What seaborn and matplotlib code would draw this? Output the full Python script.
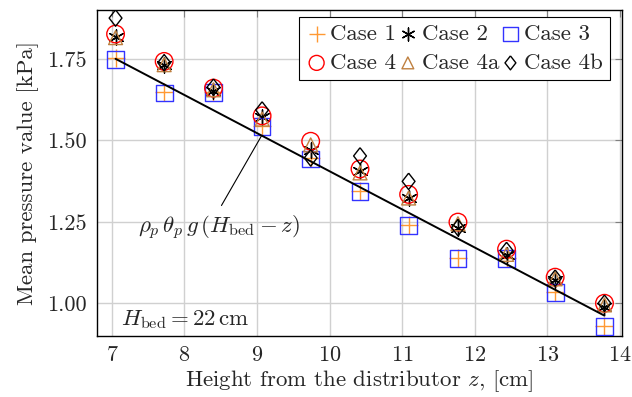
import matplotlib
matplotlib.use("Agg")
import matplotlib.pyplot as plt
import seaborn as sns
import pandas as pd

# Measurement heights above the distributor [cm]
z = [7.05, 7.72, 8.40, 9.07, 9.74, 10.42, 11.09, 11.77, 12.44, 13.11, 13.79]

# Mean pressure per case [kPa]
case1 = [1.752, 1.647, 1.648, 1.545, 1.445, 1.345, 1.240, 1.138, 1.140, 1.036, 0.930]
case2 = [1.818, 1.732, 1.652, 1.570, 1.470, 1.406, 1.323, 1.232, 1.149, 1.070, 0.990]
case3 = [1.749, 1.645, 1.646, 1.543, 1.443, 1.343, 1.239, 1.137, 1.137, 1.034, 0.928]
case4 = [1.826, 1.742, 1.660, 1.575, 1.497, 1.412, 1.334, 1.249, 1.166, 1.080, 1.000]
case4a = [1.815, 1.732, 1.655, 1.565, 1.486, 1.400, 1.323, 1.244, 1.150, 1.075, 0.995]
case4b = [1.875, 1.738, 1.663, 1.593, 1.446, 1.452, 1.374, 1.232, 1.162, 1.077, 1.000]

# Hydrostatic estimate rho_p theta_p g (H_bed - z), end points
z_line = [7.05, 13.79]
p_line = [1.750, 0.962]

case_names = ["Case 1", "Case 2", "Case 3", "Case 4", "Case 4a", "Case 4b"]

sns.set_style("whitegrid")
FS = 16.5
plt.rcParams.update({
    "font.family": "serif",
    "font.serif": ["cmr10", "DejaVu Serif"],
    "mathtext.fontset": "cm",
    "axes.formatter.use_mathtext": True,
    "font.size": FS,
    "axes.unicode_minus": False,
})

df = pd.DataFrame({"z": z, "Case 1": case1, "Case 2": case2, "Case 3": case3,
                   "Case 4": case4, "Case 4a": case4a, "Case 4b": case4b})

diamond = [(0, 1), (0.78, 0), (0, -1), (-0.78, 0), (0, 1)]
styles = {
    "Case 1": dict(marker="+", color="#ff9933", s=170, linewidth=1.0),
    "Case 2": dict(marker=(6, 2, 0), color="black", s=120, linewidth=1.0),
    "Case 3": dict(marker="s", facecolor="none", edgecolor="#3333ff", s=145, linewidth=1.0),
    "Case 4": dict(marker="o", facecolor="none", edgecolor="red", s=160, linewidth=1.0),
    "Case 4a": dict(marker="^", facecolor="none", edgecolor="#bf8040", s=100, linewidth=1.0),
    "Case 4b": dict(marker=diamond, facecolor="none", edgecolor="black", s=140, linewidth=1.0),
}

fig = plt.figure(figsize=(6.32, 3.97), dpi=100)
ax = fig.add_axes([0.153, 0.154, 0.831, 0.821])

for name in case_names:
    sns.scatterplot(data=df, x="z", y=name, ax=ax, zorder=3, label=name, **styles[name])

sns.lineplot(x=z_line, y=p_line, ax=ax, color="black", linewidth=1.4, zorder=4)

ax.set_xlim(6.79, 14.03)
ax.set_ylim(0.90, 1.90)
ax.set_xticks(range(7, 15))
ax.set_yticks([1.00, 1.25, 1.50, 1.75])
ax.set_yticklabels(["1.00", "1.25", "1.50", "1.75"])
ax.set_xlabel(r"Height from the distributor $z$, [cm]", labelpad=2)
ax.set_ylabel("Mean pressure value [kPa]", labelpad=6)

ax.grid(True, color="#d0d0d0", linewidth=1.0)
for sp in ax.spines.values():
    sp.set_color("black")
    sp.set_linewidth(1.0)
ax.tick_params(direction="in", length=5, color="#808080", top=True, right=True,
               labelsize=16, pad=7)

# Label for the hydrostatic line with a leader line
ax.text(8.48, 1.232, r"$\rho_p\,\theta_p\,g\,(H_\mathrm{bed}-z)$", ha="center", va="center", fontsize=FS)
ax.annotate("", xy=(9.06, 1.513), xytext=(8.51, 1.30),
            arrowprops=dict(arrowstyle="-", color="black", lw=0.8, shrinkA=0, shrinkB=0))
ax.text(7.13, 0.95, r"$H_\mathrm{bed} = 22\,\mathrm{cm}$", ha="left", va="center", fontsize=FS)

h, l = ax.get_legend_handles_labels()
lookup = dict(zip(l, h))
order = ["Case 1", "Case 4", "Case 2", "Case 4a", "Case 3", "Case 4b"]
leg = ax.legend([lookup[k] for k in order], order, ncol=3, loc="upper right",
                bbox_to_anchor=(0.977, 0.979), borderaxespad=0, frameon=True, fancybox=False,
                edgecolor="black", framealpha=1.0, handletextpad=0.15,
                columnspacing=0.05, handlelength=0.9, borderpad=0.3,
                labelspacing=0.4, fontsize=FS, markerscale=0.85)
leg.get_frame().set_linewidth(0.8)

fig.savefig("out.png", dpi=100)
